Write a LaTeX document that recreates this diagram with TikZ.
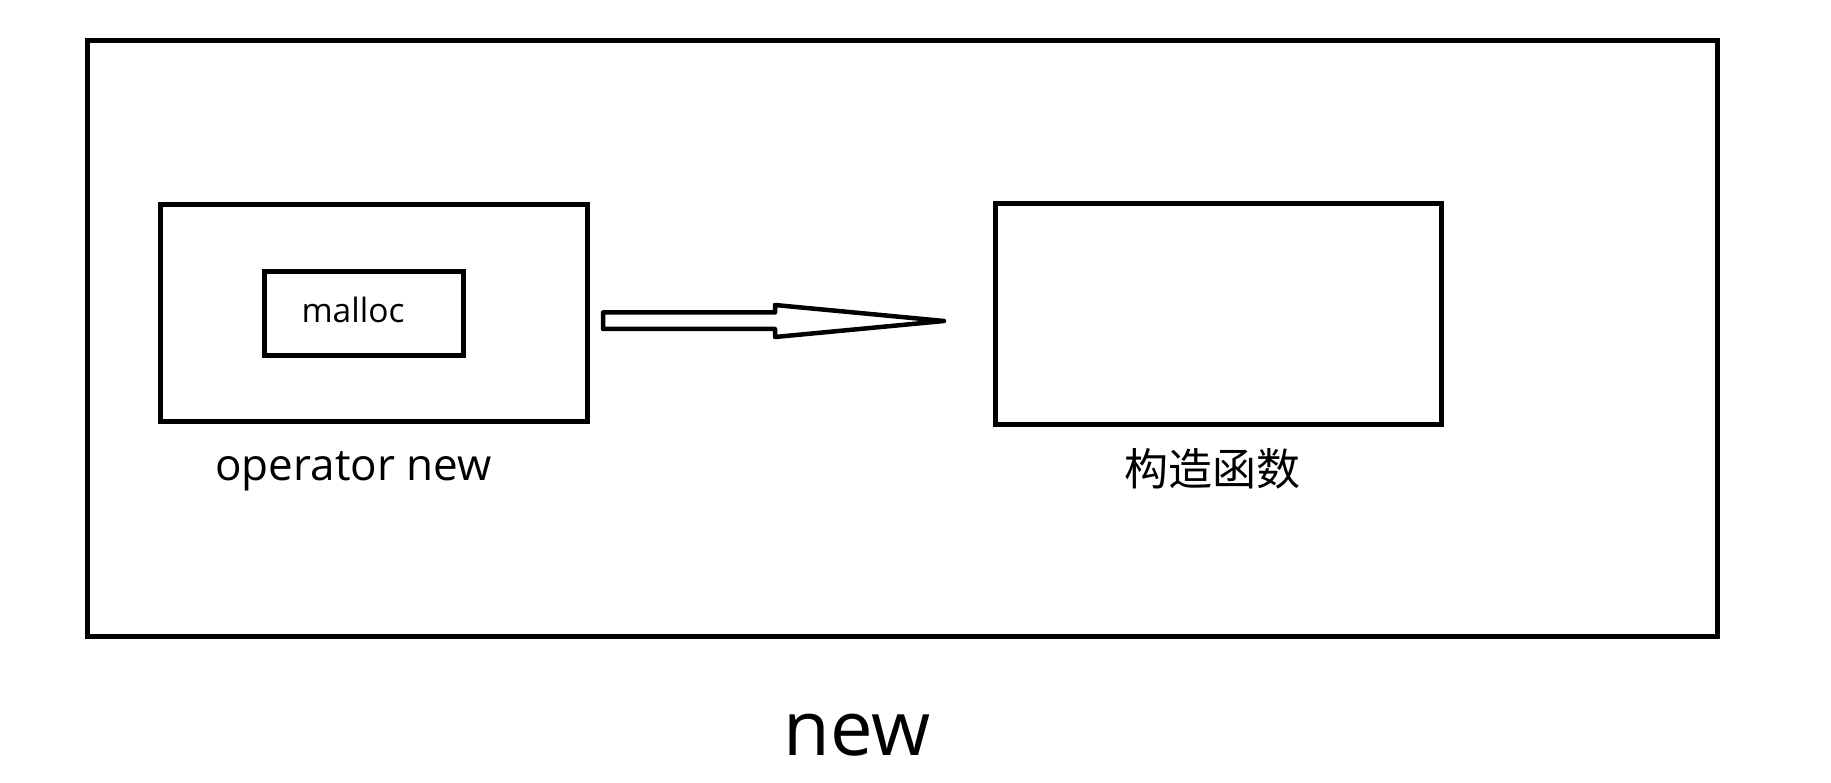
\documentclass[tikz,border=0pt]{standalone}
\usepackage{fontspec}
\setmainfont{Open Sans}
\newfontfamily\cjk{Noto Sans CJK SC}
\usepackage{tikz}
\usetikzlibrary{calc}
\tikzstyle{framebox}=[rectangle,draw=black,line width=5pt,
                      inner sep=0pt]
\tikzstyle{label}=[inner sep=0pt,anchor=base]

\begin{document}
\begin{tikzpicture}[x=1pt,y=-1pt]
    \useasboundingbox (0,0) rectangle (1831,783);
    \node (outer) at (902.5, 338.5) [framebox,minimum width=1630pt,minimum height=595pt]{};
    \node (opnew) at (373.75, 313.25) [framebox,minimum width=427.5pt,minimum height=216.5pt]{};
    \node (malloc) at (363.5, 313.5) [framebox,minimum width=199pt,minimum height=84pt]{};
    \node (ctor) at (1218.5, 314.25) [framebox,minimum width=446pt,minimum height=220.5pt]{};
    \node (malloctxt) at (353, 323) [label,font=\fontsize{33.5}{33.5}\selectfont]{malloc};
    \node (opnewtxt) at (353.5, 480) [label,font=\fontsize{44}{44}\selectfont]{operator new};
    \node (ctortxt) at (1212.5, 485) [label,font=\cjk\fontsize{44}{44}\selectfont]{构造函数};
    \node (newtxt) at (857, 755) [label,font=\fontsize{76}{76}\selectfont]{new};
    % hollow arrow
    \coordinate (a0) at (603, 321);
    \coordinate (a1) at (944, 321);
    \draw[line width=4.5pt,line join=round]
      ($(a0)+(0,-8.5)$) -- (775,312.5) -- (775,305) -- (a1)
      -- (775,337) -- (775,329) -- ($(a0)+(0,8)$) -- cycle;
  \end{tikzpicture}
\end{document}
